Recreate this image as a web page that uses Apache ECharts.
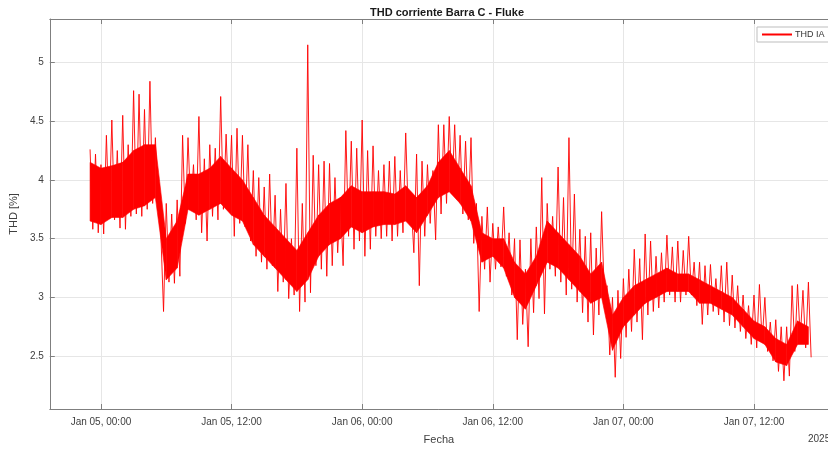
<!DOCTYPE html>
<html>
<head>
<meta charset="utf-8">
<script src="https://cdn.jsdelivr.net/npm/echarts@6/dist/echarts.min.js"></script>
<style>html,body{margin:0;padding:0;background:#fff}#c{width:828px;height:450px}</style>
</head>
<body>
<div id="c"></div>
<script>
// Sampling: first sample Jan 04 23:00 (UTC), peaks/lows every 30 minutes.
const sampleStart = Date.UTC(2025, 0, 4, 23, 0, 0);
const sampleStepMin = 30;
const thdHigh = [
  4.26,4.22,4.13,4.38,4.51,4.25,4.55,4.30,4.76,4.73,4.60,4.84,4.36,
  3.55,3.80,3.71,3.83,4.38,4.36,4.13,4.54,4.18,4.30,4.27,4.71,4.39,
  4.38,4.44,4.38,4.30,4.08,4.02,3.94,4.05,3.87,3.75,3.97,3.50,4.27,
  3.80,5.15,4.21,4.13,4.16,4.14,4.02,3.85,4.42,4.33,4.27,4.51,4.25,
  4.29,4.08,4.13,4.16,4.20,4.08,4.40,3.80,4.22,4.16,4.13,4.08,4.47,
  4.47,4.54,4.47,4.38,4.33,4.36,3.80,3.69,3.77,3.63,3.60,3.77,3.55,
  3.50,3.49,3.24,3.50,3.60,4.02,3.80,3.69,4.11,3.85,4.36,3.88,3.58,
  3.52,3.55,3.42,3.73,3.10,3.00,3.06,3.16,3.24,3.41,3.33,3.54,3.48,
  3.35,3.38,3.53,3.43,3.48,3.40,3.52,3.30,3.30,3.27,3.28,3.16,3.27,
  3.30,3.19,3.10,3.02,2.93,3.02,3.11,3.00,2.79,2.81,2.75,2.75,3.10,
  3.11,3.06,3.13
];
const thdLow = [
  3.58,3.55,3.54,3.67,3.66,3.59,3.58,3.69,3.71,3.69,3.75,3.80,3.80,
  2.88,3.13,3.12,3.18,3.63,3.75,3.66,3.55,3.48,3.69,3.66,3.75,3.77,
  3.52,3.63,3.60,3.48,3.35,3.30,3.24,3.27,3.05,3.13,2.99,3.02,2.88,
  2.96,3.04,3.27,3.24,3.18,3.27,3.38,3.27,3.52,3.41,3.48,3.35,3.41,
  3.52,3.50,3.52,3.48,3.52,3.55,3.66,3.38,3.10,3.52,3.63,3.49,3.71,
  3.80,3.88,3.83,3.71,3.66,3.46,2.88,3.24,3.13,3.24,3.26,3.18,3.02,
  2.64,2.77,2.58,2.87,2.99,2.86,3.24,3.18,3.13,3.02,3.07,2.96,2.87,
  2.79,2.68,2.85,3.02,2.51,2.32,2.48,2.66,2.71,2.79,2.64,2.85,2.88,
  2.91,2.96,3.02,2.96,2.96,3.02,3.02,2.93,2.77,2.85,2.88,2.85,2.79,
  2.76,2.74,2.71,2.65,2.60,2.57,2.62,2.54,2.46,2.37,2.29,2.33,2.54,
  2.65,2.57,2.49
];
// Dense core band of the trace (where the samples crowd together), hourly from Jan 04 23:00.
const coreStepMin = 60;
const coreLow = [
  3.65,3.62,3.68,3.68,3.75,3.78,3.85,3.15,3.25,3.75,3.70,3.75,3.80,
  3.70,3.65,3.45,3.35,3.25,3.15,3.05,3.15,3.35,3.45,3.50,3.60,3.55,
  3.60,3.62,3.62,3.65,3.55,3.70,3.85,3.90,3.80,3.65,3.30,3.35,3.25,
  3.00,2.90,3.10,3.30,3.25,3.15,3.05,2.95,3.00,2.55,2.75,2.85,2.95,
  3.00,3.05,3.05,3.05,2.95,2.95,2.90,2.85,2.75,2.65,2.60,2.45,2.42,
  2.60,2.60
];
const coreHigh = [
  4.15,4.10,4.12,4.15,4.25,4.30,4.30,3.50,3.65,4.05,4.05,4.10,4.20,
  4.10,4.00,3.85,3.70,3.60,3.50,3.40,3.55,3.70,3.80,3.85,3.95,3.90,
  3.90,3.90,3.88,3.95,3.85,3.95,4.15,4.25,4.10,3.95,3.55,3.50,3.50,
  3.30,3.20,3.35,3.65,3.55,3.45,3.35,3.20,3.30,2.85,3.00,3.10,3.15,
  3.20,3.25,3.20,3.20,3.15,3.10,3.05,3.00,2.90,2.80,2.75,2.65,2.60,
  2.80,2.75
];
const xTickTimes = [
  Date.UTC(2025,0,5,0,0), Date.UTC(2025,0,5,12,0),
  Date.UTC(2025,0,6,0,0), Date.UTC(2025,0,6,12,0),
  Date.UTC(2025,0,7,0,0), Date.UTC(2025,0,7,12,0)
];
const yTicks = [2.5, 3, 3.5, 4, 4.5, 5];
const xMin = Date.UTC(2025,0,4,19,18);
const xMax = Date.UTC(2025,0,7,18,48);
const yMin = 2.05, yMax = 5.37;

const stepMs = sampleStepMin * 60000;
const traceData = [];
for (let i = 0; i < thdHigh.length; i++) {
  const t = sampleStart + i * stepMs;
  traceData.push([t, thdHigh[i]]);
  traceData.push([t + stepMs / 2, thdLow[i]]);
}
const coreMs = coreStepMin * 60000;
const coreSegs = [];
for (let i = 0; i + 1 < coreLow.length; i++) {
  coreSegs.push([sampleStart + i * coreMs, coreLow[i], coreHigh[i],
                 sampleStart + (i + 1) * coreMs, coreLow[i + 1], coreHigh[i + 1]]);
}

const MONTHS = ['Jan','Feb','Mar','Apr','May','Jun','Jul','Aug','Sep','Oct','Nov','Dec'];
function fmt(v) {
  const d = new Date(v);
  const p = n => String(n).padStart(2, '0');
  return MONTHS[d.getUTCMonth()] + ' ' + p(d.getUTCDate()) + ', ' + p(d.getUTCHours()) + ':' + p(d.getUTCMinutes());
}
const FONT = 'Liberation Sans, Arial, Helvetica, sans-serif';
const axisCol = '#7f7f7f', labelCol = '#404040', gridCol = '#e6e6e6';

const chart = echarts.init(document.getElementById('c'), null, {renderer: 'canvas'});
chart.setOption({
  animation: false,
  backgroundColor: '#ffffff',
  textStyle: {fontFamily: FONT},
  title: {
    text: 'THD corriente Barra C - Fluke',
    left: 442, top: 2, textAlign: 'center',
    textStyle: {fontSize: 11, fontWeight: 'bold', color: '#1a1a1a', fontFamily: FONT}
  },
  legend: {
    data: ['THD IA'],
    left: 757, top: 27,
    padding: [3, 6, 3, 5],
    itemWidth: 30, itemHeight: 2, itemGap: 4,
    icon: 'rect',
    borderColor: '#bdbdbd', borderWidth: 1, backgroundColor: '#ffffff',
    textStyle: {fontSize: 9, color: '#333', fontFamily: FONT, padding: [0,0,0,-2]}
  },
  grid: {left: 47, right: -10, top: 19, bottom: 35, show: false},
  xAxis: [{
    type: 'value', min: xMin, max: xMax,
    name: 'Fecha', nameLocation: 'middle', nameGap: 25,
    nameTextStyle: {fontSize: 11, color: labelCol, fontFamily: FONT},
    axisLine: {show: true, onZero: false, lineStyle: {color: axisCol, width: 1}},
    axisTick: {show: true, inside: true, length: 5, customValues: xTickTimes, lineStyle: {color: axisCol}},
    axisLabel: {show: true, customValues: xTickTimes, formatter: fmt, fontSize: 10, color: labelCol, margin: 8, fontFamily: FONT},
    splitLine: {show: true, lineStyle: {color: gridCol, width: 1}}
  }, {
    type: 'value', position: 'top', min: xMin, max: xMax,
    axisLine: {show: true, onZero: false, lineStyle: {color: axisCol, width: 1}},
    axisTick: {show: true, inside: true, length: 5, customValues: xTickTimes, lineStyle: {color: axisCol}},
    axisLabel: {show: false},
    splitLine: {show: false}
  }],
  yAxis: [{
    type: 'value', min: yMin, max: yMax,
    name: 'THD [%]', nameLocation: 'middle', nameGap: 24, nameRotate: 90,
    nameTextStyle: {fontSize: 11, color: labelCol, fontFamily: FONT},
    axisLine: {show: true, onZero: false, lineStyle: {color: axisCol, width: 1}},
    axisTick: {show: true, inside: true, length: 5, customValues: yTicks, lineStyle: {color: axisCol}},
    axisLabel: {show: true, customValues: yTicks, fontSize: 10, color: labelCol, margin: 6, fontFamily: FONT,
      formatter: v => String(v)},
    splitLine: {show: true, lineStyle: {color: gridCol, width: 1}}
  }],
  graphic: [{
    type: 'text', left: 808, top: 434,
    style: {text: '2025', fontSize: 10, fill: labelCol, fontFamily: FONT}
  }],
  series: [{
    name: 'core', type: 'custom', xAxisIndex: 0, yAxisIndex: 0,
    data: coreSegs, silent: true, z: 2,
    encode: {x: [0, 3], y: [1, 2, 4, 5]},
    renderItem: function (params, api) {
      const a = api.coord([api.value(0), api.value(1)]);
      const b = api.coord([api.value(0), api.value(2)]);
      const c = api.coord([api.value(3), api.value(5)]);
      const d = api.coord([api.value(3), api.value(4)]);
      return {
        type: 'polygon',
        shape: {points: [a, b, c, d]},
        style: {fill: '#ff0000', stroke: '#ff0000', lineWidth: 0.6}
      };
    }
  }, {
    name: 'THD IA', type: 'line', xAxisIndex: 0, yAxisIndex: 0,
    data: traceData, showSymbol: false, symbol: 'none',
    lineStyle: {color: '#ff0000', width: 0.9},
    itemStyle: {color: '#ff0000'},
    sampling: false, z: 3
  }]
});
</script>
</body>
</html>
